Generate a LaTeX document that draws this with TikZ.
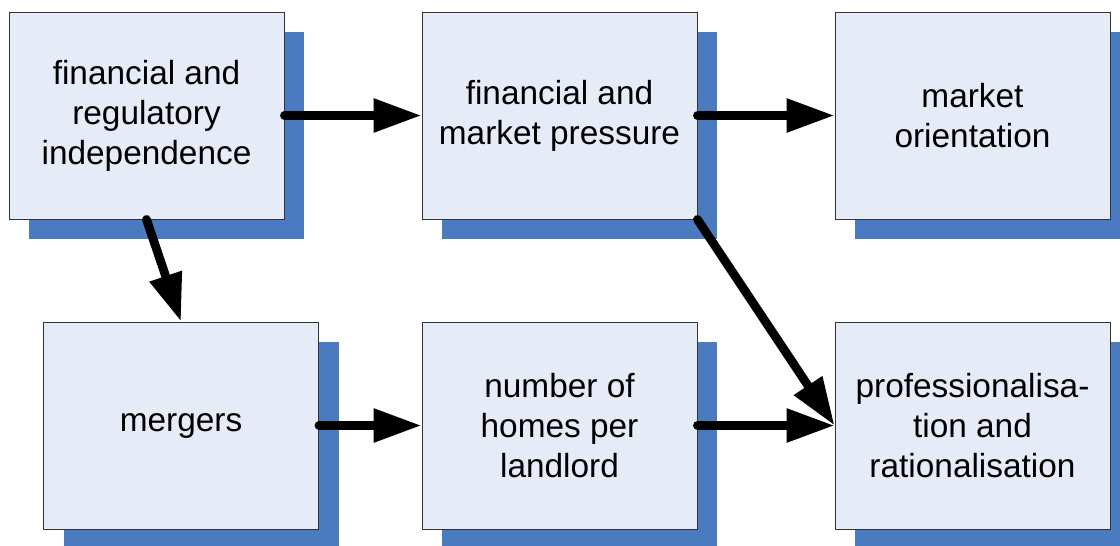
\documentclass[tikz,border=0pt]{standalone}
\usepackage{fontspec}
\setmainfont{Liberation Sans}
\usetikzlibrary{positioning, arrows.meta, shadows}

\definecolor{boxfill}{HTML}{E6ECF7}
\definecolor{shadowblue}{HTML}{4A7AC0}

\begin{document}
\begin{tikzpicture}[
    node distance=8.26cm,
    on grid,
    every node/.style={font=\fontsize{19pt}{22.8pt}\selectfont},
    factor/.style={draw=black!80, line width=0.5pt, fill=boxfill,
        minimum width=5.5cm, minimum height=4.14cm, align=center,
        drop shadow={shadow xshift=0.4cm, shadow yshift=-0.4cm,
            fill=shadowblue, opacity=1}},
    link/.style={-{Triangle[length=0.96cm, width=0.64cm]},
        line width=5pt, line cap=round}
]
    \useasboundingbox (0,0) rectangle (22.4,-10.9);

    % Boxes
    \node[factor] (indep) at (2.93,-2.31) {financial and\\regulatory\\independence};
    \node[factor, right=of indep] (press) {financial and\\market pressure};
    \node[factor, right=of press] (orient) {market\\orientation};
    \node[factor, below=6.2cm of indep, xshift=0.69cm] (merg) {mergers};
    \node[factor, below=6.2cm of press] (homes) {number of\\homes per\\landlord};
    \node[factor, below=6.2cm of orient] (prof) {professionalisa-\\tion and\\rationalisation};

    % Arrows
    \draw[link] (indep.east) -- (press.west);
    \draw[link] (press.east) -- (orient.west);
    \draw[link] (indep.south) -- (merg.north);
    \draw[link] (merg.east) -- (homes.west);
    \draw[link] (homes.east) -- (prof.west);
    \draw[link] (press.south east) -- (prof.west);
\end{tikzpicture}
\end{document}
